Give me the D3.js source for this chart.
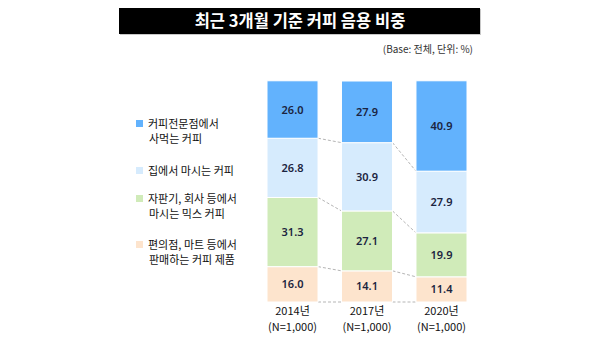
<!DOCTYPE html>
<html><head><meta charset="utf-8">
<script src="https://cdn.jsdelivr.net/npm/d3@7"></script>
<style>
body{margin:0;background:#fff;}
svg{display:block;font-family:"Noto Sans CJK KR","Noto Sans",sans-serif;}
</style></head>
<body>
<svg id="c" width="600" height="348"></svg>
<script>
const title = "최근 3개월 기준 커피 음용 비중";
const subtitle = "(Base: 전체, 단위: %)";
const years = ["2014년", "2017년", "2020년"];
const sampleLabels = ["(N=1,000)", "(N=1,000)", "(N=1,000)"];
// stacked bottom -> top
const seriesNames = ["편의점, 마트 등에서 판매하는 커피 제품", "자판기, 회사 등에서 마시는 믹스 커피", "집에서 마시는 커피", "커피전문점에서 사먹는 커피"];
const storeValues = [16.0, 14.1, 11.4];
const mixValues = [31.3, 27.1, 19.9];
const homeValues = [26.8, 30.9, 27.9];
const cafeValues = [26.0, 27.9, 40.9];
const legendLines = [
  ["커피전문점에서", "사먹는 커피"],
  ["집에서 마시는 커피"],
  ["자판기, 회사 등에서", "마시는 믹스 커피"],
  ["편의점, 마트 등에서", "판매하는 커피 제품"]
];
const colors = ["#fde4cd", "#d0ebb9", "#d6ebfd", "#62b2fd"];

const svg = d3.select("#c");
const seriesVals = [storeValues, mixValues, homeValues, cafeValues];
const x = d3.scaleBand().domain(years).range([267, 467]).paddingInner(0.315).paddingOuter(0);
const y = d3.scaleLinear().domain([0, 100]).range([302, 81]);

// title bar
svg.append("rect").attr("x", 120).attr("y", 9).attr("width", 361).attr("height", 26).attr("fill", "#c8c8c8");
svg.append("rect").attr("x", 119).attr("y", 8).attr("width", 361).attr("height", 26).attr("fill", "#000");
svg.append("text").attr("x", 300).attr("y", 27).attr("text-anchor", "middle").attr("fill", "#fff")
  .attr("font-size", 16.5).attr("font-weight", 700).text(title);
svg.append("text").attr("x", 473).attr("y", 53).attr("text-anchor", "end").attr("fill", "#333")
  .attr("font-size", 10).text(subtitle);

// stack data
const data = years.map((yr, i) => {
  let acc = 0;
  return seriesVals.map((arr, s) => {
    const v = arr[i];
    const seg = {year: yr, s, v, y0: acc, y1: acc + v};
    acc += v;
    return seg;
  });
});

// connectors
const g = svg.append("g");
for (let i = 0; i < years.length - 1; i++) {
  for (let s = 0; s < 4; s++) {
    const a = s === 0 ? 0 : data[i][s - 1].y1;
    const b = s === 0 ? 0 : data[i + 1][s - 1].y1;
    g.append("line")
      .attr("x1", x(years[i]) + x.bandwidth()).attr("x2", x(years[i + 1]))
      .attr("y1", y(a)).attr("y2", y(b))
      .attr("stroke", "#b5b5b5").attr("stroke-width", 1).attr("stroke-dasharray", "3,2");
  }
}

// bars
data.forEach(col => {
  col.forEach(d => {
    g.append("rect")
      .attr("x", x(d.year)).attr("width", x.bandwidth())
      .attr("y", y(d.y1)).attr("height", y(d.y0) - y(d.y1))
      .attr("fill", colors[d.s]).attr("stroke", "#fff").attr("stroke-width", 1);
    g.append("text")
      .attr("x", x(d.year) + x.bandwidth() / 2)
      .attr("y", (y(d.y0) + y(d.y1)) / 2 + 4)
      .attr("text-anchor", "middle").attr("font-size", 11).attr("font-weight", 600)
      .attr("fill", "#1b2440").attr("font-family", "'Noto Sans',sans-serif")
      .text(d.v.toFixed(1));
  });
});

// axis labels
years.forEach((yr, i) => {
  const cx = x(yr) + x.bandwidth() / 2;
  svg.append("text").attr("x", cx).attr("y", 315).attr("text-anchor", "middle")
    .attr("font-size", 11).attr("fill", "#111").text(yr);
  svg.append("text").attr("x", cx).attr("y", 331).attr("text-anchor", "middle")
    .attr("font-size", 11).attr("fill", "#111").text(sampleLabels[i]);
});

// legend
const legendY = [128, 175, 203, 249];
const legendColors = [colors[3], colors[2], colors[1], colors[0]];
legendLines.forEach((lines, i) => {
  svg.append("rect").attr("x", 136).attr("y", legendY[i] - 8).attr("width", 7).attr("height", 7)
    .attr("fill", legendColors[i]);
  lines.forEach((ln, j) => {
    svg.append("text").attr("x", j === 0 ? 148 : 149).attr("y", legendY[i] + j * 15)
      .attr("font-size", 11).attr("fill", "#111").text(ln);
  });
});
</script>
</body></html>
